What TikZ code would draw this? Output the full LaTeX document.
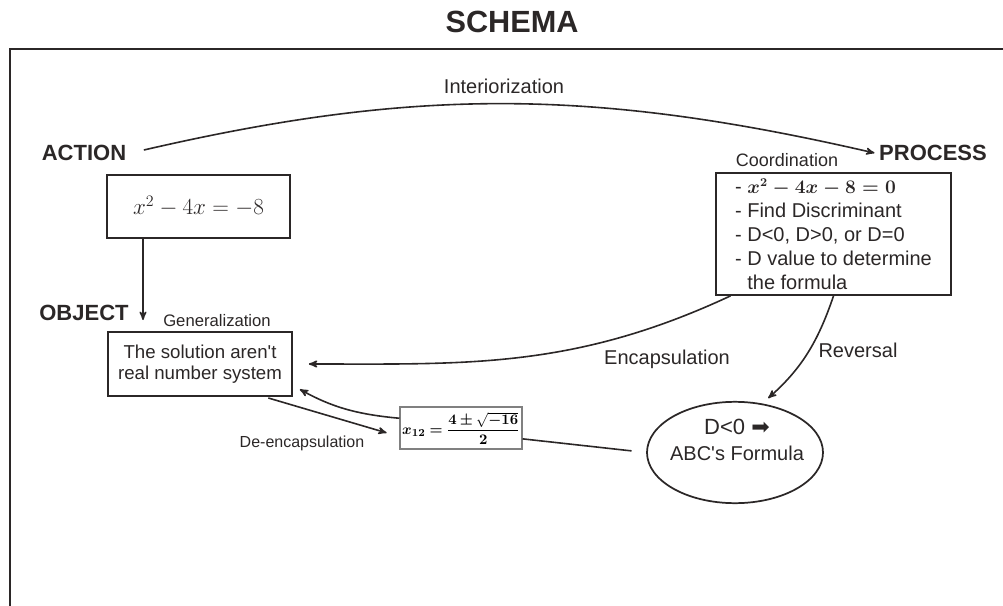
\documentclass[tikz,border=0pt]{standalone}
\usepackage{amsmath, amssymb}
\usepackage[no-math]{fontspec}
\setmainfont{Liberation Sans}[Ligatures=TeXOff]
\newfontfamily\arrowfont{DejaVu Sans}
\usetikzlibrary{arrows, shapes.geometric}
\definecolor{ink}{HTML}{2B2727}
\tikzset{
>=stealth', % makes the arrow heads bold
link/.style={draw=ink, line width=1.2pt}, % every connector
stage/.style={text=ink, font=\bfseries\fontsize{16.5}{20}\selectfont}, % ACTION, PROCESS, OBJECT
phase/.style={text=ink, font=\fontsize{15}{18}\selectfont}, % names on the big arrows
minor/.style={text=ink, font=\fontsize{12.5}{15}\selectfont}, % small names
box/.style={draw=ink, line width=1.3pt, text=ink, inner sep=0pt}, % the framed boxes
}
\newcommand{\rootformula}{$\boldsymbol{x}_{\mathbf{12}}\boldsymbol{=}\dfrac{\mathbf{4}\boldsymbol{\pm}\sqrt{\boldsymbol{-}\mathbf{16}}}{\mathbf{2}}$}

\begin{document}
\begin{tikzpicture}[x=0.75pt, y=0.75pt]
    \useasboundingbox (0,0) rectangle (1003,-606);
    \draw[ink, line width=1.5pt] (1003,-49) -- (10,-49) -- (10,-606);
    \node[text=ink, font=\bfseries\fontsize{23}{28}\selectfont] (title) at (512,-22) {SCHEMA};

    \node[stage] (action) at (84,-153) {ACTION};
    \node[stage] (process) at (933,-153) {PROCESS};
    \node[stage] (object) at (84,-313) {OBJECT};

    \node[box, minimum width=137pt, minimum height=47pt] (actbox) at (198.5,-206.5) {\fontsize{18}{22}\selectfont $x^2-4x=-8$};
    \node[box, minimum width=138pt, minimum height=48pt, align=center, font=\fontsize{14}{15.75}\selectfont] (objbox) at (200,-364) {The solution aren't\\real number system};
    \node[box, minimum width=176pt, minimum height=91.5pt, align=left, font=\fontsize{15}{18}\selectfont] (procbox) at (833.5,-234) {- {\fontsize{13.5}{18}\selectfont$\boldsymbol{x^2-4x-8=0}$}\\- Find Discriminant\\- D<0, D>0, or D=0\\- D value to determine\\\phantom{- }the formula};
    \node[draw=gray, line width=0.8pt, minimum width=91.5pt, minimum height=31.5pt, inner sep=0pt, font=\fontsize{11}{13}\selectfont] (x12box) at (461,-428) {\rootformula};
    \node[box, ellipse, minimum width=132pt, minimum height=76pt] (dneg) at (735,-452.5) {};
    \node[align=center, text=ink, inner sep=0pt, font=\fontsize{15}{19}\selectfont] (dtext) at (737,-440) {{\fontsize{16.5}{19}\selectfont D<0 {\arrowfont ➡}}\\ABC's Formula};

    \node[phase] (inter) at (504,-86) {Interiorization};
    \node[minor, font=\fontsize{13.5}{16}\selectfont] (coord) at (787,-160) {Coordination};
    \node[minor] (gener) at (217,-321) {Generalization};
    \node[phase] (encap) at (667,-359) {Encapsulation};
    \node[phase] (rever) at (858,-350) {Reversal};
    \node[minor, font=\fontsize{12}{14}\selectfont] (deenc) at (302,-443) {De-encapsulation};

    \coordinate (objtip) at (143,-320);
    \draw[link, ->] (actbox.south -| objtip) -- (objtip);
    \draw[link, ->, shorten <=10pt] (action.east) to[bend left=13] (process.west);
    \draw[link, ->, shorten >=12pt] (procbox.211) to[out=205, in=0] (objbox.east);
    \draw[link, ->, shorten >=6pt] (procbox.south) to[bend left=15] (dneg.61);
    \draw[link, ->, shorten <=3pt, shorten >=10pt] (objbox.-27) -- (x12box.188);
    \draw[link, ->, shorten >=6pt] (x12box.171) to[bend left=12] (objbox.-13);
    \draw[link, shorten >=11pt] (x12box.-10) -- (dneg.west);
\end{tikzpicture}
\end{document}
